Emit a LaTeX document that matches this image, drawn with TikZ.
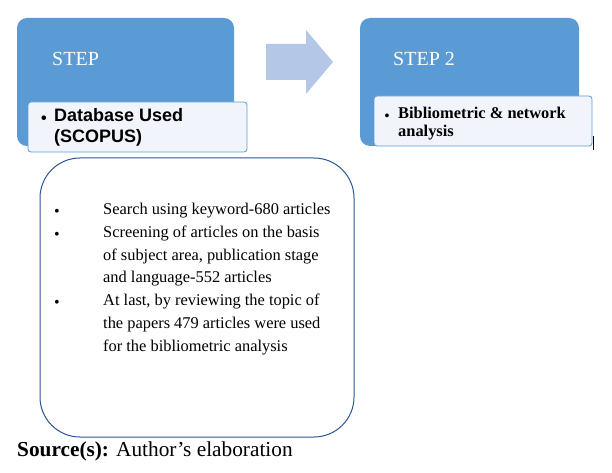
\documentclass[tikz,border=0pt]{standalone}
\usepackage{fontspec}
\setmainfont{Liberation Serif}
\newfontfamily\arialf{Liberation Sans}
\definecolor{stepblue}{HTML}{5B9BD5}
\definecolor{paleblue}{HTML}{F1F5FB}
\definecolor{arrowblue}{HTML}{B4C7E7}
\definecolor{darkblue}{HTML}{2F5597}
\begin{document}
\begin{tikzpicture}[x=1pt,y=-1pt,
  stepbox/.style={fill=stepblue,rounded corners=10pt},
  subbox/.style={fill=paleblue,draw=stepblue,line width=0.8pt,rounded corners=3pt},
  lbl/.style={inner sep=0,anchor=west,text=white,font=\fontsize{20}{24}\selectfont}]
\useasboundingbox (0,0) rectangle (612,473);
\fill[white] (0,0) rectangle (612,473);
\fill[stepbox] (17,18) rectangle (234,146);
\node[lbl] (s1) at (52,59) {STEP};
\fill[stepbox] (360,18) rectangle (579,146);
\node[lbl] (s2) at (393,59) {STEP 2};
\draw[subbox] (28,102) rectangle (247,152);
\node[inner sep=0,font=\arialf\bfseries\fontsize{16}{20}\selectfont] (b1) at (44,120) {\textbullet};
\node[inner sep=0,anchor=north west,align=left,font=\arialf\bfseries\fontsize{18}{21}\selectfont] (db) at (54,108) {Database Used\\(SCOPUS)};
\draw[subbox] (374,96) rectangle (592,146);
\node[inner sep=0,font=\bfseries\fontsize{14}{18}\selectfont] (b2) at (387,117) {\textbullet};
\node[inner sep=0,anchor=north west,align=left,font=\bfseries\fontsize{16.4}{18}\selectfont] (ba) at (398,107) {Bibliometric \& network\\analysis};
\draw[black,line width=0.6pt] (593,136) -- (593,150);
\fill[arrowblue] (266,44) -- (306,44) -- (306,30) -- (333,62) -- (306,94) -- (306,80) -- (266,80) -- cycle;
\draw[darkblue,line width=1pt,rounded corners=40pt] (40,158) rectangle (354,437);
\node[inner sep=0,anchor=north west,align=left,font=\fontsize{16.4}{22.8}\selectfont] (txt) at (103,203) {Search using keyword-680 articles\\Screening of articles on the basis\\of subject area, publication stage\\and language-552 articles\\At last, by reviewing the topic of\\the papers 479 articles were used\\for the bibliometric analysis};
\foreach \yy in {213,236,304} \node[inner sep=0,font=\fontsize{16}{18}\selectfont] at (57,\yy) {\textbullet};
\node[inner sep=0,anchor=west,font=\fontsize{21.3}{24}\selectfont] (src) at (17,451) {\textbf{Source(s):} Author’s elaboration};
\end{tikzpicture}
\end{document}
